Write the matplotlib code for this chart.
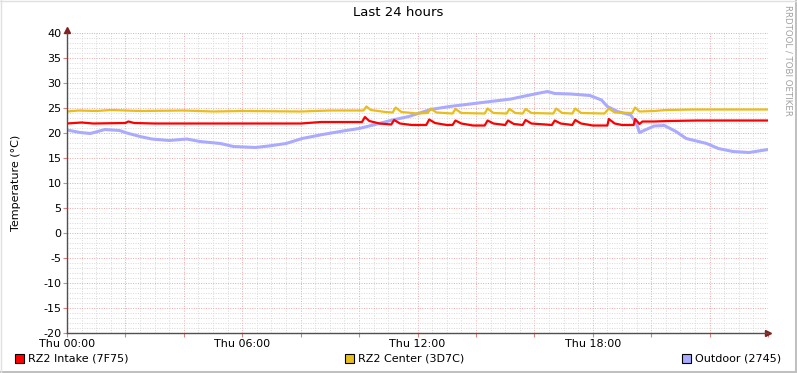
import numpy as np
import matplotlib.pyplot as plt
from matplotlib.lines import Line2D
from matplotlib.patches import Rectangle

plt.rcParams['axes.unicode_minus'] = False

# Messdaten (Stunden seit Thu 00:00, Temperatur in °C)
intake_t = [0, 0.5, 0.9, 2.0, 2.1, 2.3, 3.0, 5.0, 8.0, 8.7, 10.1, 10.2, 10.35, 10.7,
            11.1, 11.2, 11.4, 11.8, 12.3, 12.4, 12.6, 13.0, 13.2, 13.3, 13.5, 13.9,
            14.3, 14.4, 14.6, 15.0, 15.1, 15.3, 15.6, 15.7, 15.9, 16.6, 16.7, 16.9,
            17.3, 17.4, 17.6, 18.0, 18.5, 18.55, 18.75, 19.0, 19.4, 19.45, 19.6,
            19.7, 20.1, 20.6, 21.6, 24.0]
intake_v = [21.9, 22.1, 21.9, 22.0, 22.3, 22.0, 21.9, 21.9, 21.9, 22.2, 22.2, 23.2, 22.4, 21.9,
            21.7, 22.6, 21.9, 21.6, 21.6, 22.7, 22.0, 21.6, 21.6, 22.5, 21.9, 21.5,
            21.5, 22.5, 21.9, 21.6, 22.5, 21.8, 21.6, 22.6, 21.9, 21.6, 22.5, 21.9,
            21.6, 22.6, 21.9, 21.5, 21.5, 22.8, 21.9, 21.6, 21.6, 22.8, 21.8,
            22.3, 22.3, 22.4, 22.5, 22.5]

center_t = [0, 0.4, 1.0, 1.5, 2.5, 4.0, 5.0, 6.0, 8.0, 9.0, 10.15, 10.25, 10.4, 10.9,
            11.15, 11.25, 11.45, 12.0, 12.35, 12.45, 12.65, 13.2, 13.3, 13.5, 14.3,
            14.4, 14.6, 15.05, 15.15, 15.35, 15.6, 15.7, 15.9, 16.65, 16.75, 16.95,
            17.3, 17.4, 17.6, 18.4, 18.55, 18.75, 19.35, 19.45, 19.6, 20.1, 20.5,
            21.5, 24.0]
center_v = [24.3, 24.5, 24.4, 24.6, 24.4, 24.5, 24.3, 24.4, 24.3, 24.5, 24.5, 25.3, 24.6, 24.2,
            24.1, 25.1, 24.2, 23.9, 24.0, 24.9, 24.1, 23.9, 24.8, 24.0, 23.9,
            24.9, 24.0, 23.9, 24.8, 24.0, 23.9, 24.8, 24.0, 23.9, 24.9, 24.0,
            23.9, 24.9, 24.0, 23.9, 24.9, 24.1, 24.0, 25.1, 24.3, 24.4, 24.6,
            24.7, 24.7]

outdoor_t = [0, 0.45, 0.8, 1.3, 1.8, 2.05, 2.5, 2.9, 3.5, 4.1, 4.55, 5.25, 5.7, 6.45,
             6.9, 7.5, 8.05, 8.75, 9.45, 10.0, 10.55, 11.15, 11.7, 12.45, 13.1, 13.8,
             14.5, 15.2, 15.6, 16.1, 16.45, 16.7, 17.25, 17.9, 18.3, 18.5, 18.85,
             19.3, 19.5, 19.6, 20.1, 20.45, 20.85, 21.2, 21.9, 22.3, 22.8, 23.35, 24.0]
outdoor_v = [20.6, 20.1, 19.9, 20.7, 20.5, 20.0, 19.3, 18.8, 18.5, 18.8, 18.3, 17.9, 17.3, 17.1,
             17.4, 17.9, 18.9, 19.7, 20.4, 20.9, 21.7, 22.6, 23.3, 24.7, 25.3, 25.8,
             26.3, 26.8, 27.3, 27.9, 28.3, 27.9, 27.8, 27.5, 26.6, 25.3, 24.3,
             23.6, 21.9, 20.1, 21.4, 21.5, 20.3, 18.9, 17.9, 16.9, 16.3, 16.1, 16.7]

labels = ['RZ2 Intake (7F75)', 'RZ2 Center (3D7C)', 'Outdoor (2745)']
colors = ['#FF0000', '#E8BE1C', '#AAAAFF']
xtick_pos = [0, 6, 12, 18]
xtick_lab = ['Thu 00:00', 'Thu 06:00', 'Thu 12:00', 'Thu 18:00']

W, H = 797, 373
fig = plt.figure(figsize=(W/100, H/100), dpi=100)
fig.patch.set_facecolor('white')
ax = fig.add_axes([67/W, 40/H, 701/W, 300/H])

ax.plot(outdoor_t, outdoor_v, color=colors[2], lw=2.2)
ax.plot(center_t, center_v, color=colors[1], lw=1.6)
ax.plot(intake_t, intake_v, color=colors[0], lw=1.6)

ax.set_xlim(0, 24)
ax.set_ylim(-20, 40)
ax.set_yticks(np.arange(-20, 41, 5))
ax.set_yticks(np.arange(-20, 41, 1), minor=True)
ax.set_xticks(np.arange(0, 24.1, 2))
ax.set_xticks(np.arange(0, 24.1, 0.5), minor=True)
ax.set_xticklabels([xtick_lab[xtick_pos.index(int(v))] if int(v) in xtick_pos else ''
                    for v in np.arange(0, 24.1, 2)])
ax.grid(which='minor', color='#D8D8D8', ls=(0, (1, 1.5)), lw=0.7)
ax.grid(which='major', color='#E8A8A8', ls=(0, (1, 1.5)), lw=0.7)
ax.set_axisbelow(True)
ax.tick_params(which='major', length=3, color='#E08080', labelsize=8, pad=1)
ax.tick_params(which='minor', length=0)
ax.tick_params(axis='x', pad=1.5)
for s in ['top', 'right']:
    ax.spines[s].set_visible(False)
for s in ['left', 'bottom']:
    ax.spines[s].set_color('#505050')
    ax.spines[s].set_linewidth(1)

# Pfeile an den Achsen
ax.plot(1, 0, '>', color='#802020', ms=4, transform=ax.transAxes, clip_on=False)
ax.plot(0, 1.01, '^', color='#802020', ms=4, transform=ax.transAxes, clip_on=False)

ax.set_ylabel('Temperature (°C)', fontsize=8, labelpad=16)
fig.text(398/W, 1 - 13/H, 'Last 24 hours', ha='center', va='center', fontsize=9.5)
fig.text(788/W, 1 - 5/H, 'RRDTOOL / TOBI OETIKER', rotation=270, ha='center', va='top',
         fontsize=6.2, color='#A0A0A0')

# Legende
leg_x = [15, 345, 682]
for x, c, l in zip(leg_x, colors, labels):
    fig.patches.append(Rectangle((x/W, 1 - 363/H), 9/W, 9/H, transform=fig.transFigure,
                                 facecolor=c, edgecolor='black', lw=0.8))
    fig.text((x + 13)/W, 1 - 358.5/H, l, ha='left', va='center', fontsize=8)

# Rahmen
fig.add_artist(Line2D([0, 1], [1.5/H, 1.5/H], color='#C0C0C0', lw=2.2, transform=fig.transFigure))
fig.add_artist(Line2D([1 - 1.5/W, 1 - 1.5/W], [0, 1], color='#C0C0C0', lw=2.2, transform=fig.transFigure))
fig.add_artist(Line2D([0, 1], [1 - 0.5/H, 1 - 0.5/H], color='#E0E0E0', lw=1, transform=fig.transFigure))
fig.add_artist(Line2D([0.5/W, 0.5/W], [0, 1], color='#E0E0E0', lw=1, transform=fig.transFigure))

plt.savefig('out.png', dpi=100)
